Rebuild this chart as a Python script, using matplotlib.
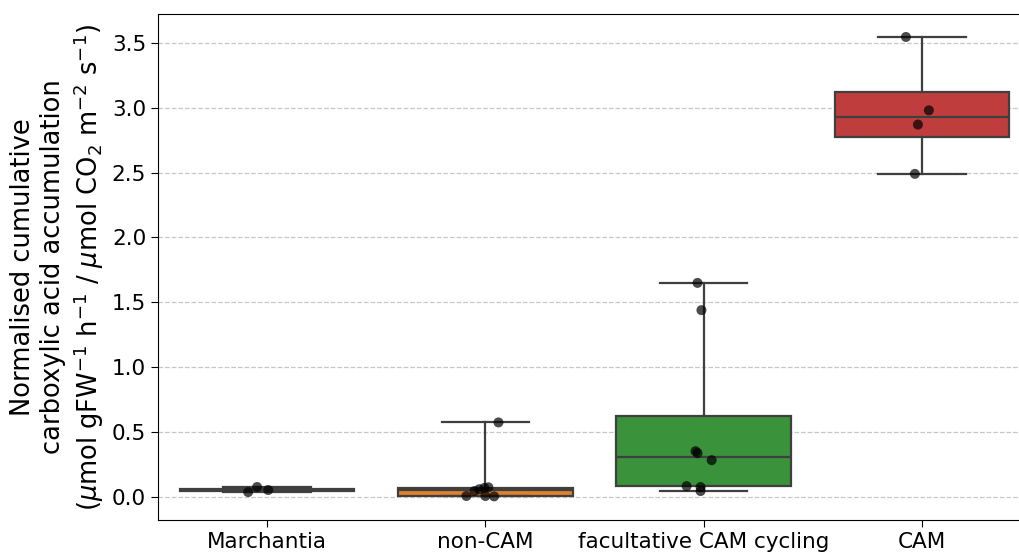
import matplotlib
matplotlib.use("Agg")
import matplotlib.pyplot as plt
import numpy as np

categories = ["Marchantia", "non-CAM", "facultative CAM cycling", "CAM"]
marchantia = [0.038, 0.077, 0.054]
non_cam = [0.575, 0.075, 0.07, 0.06, 0.046, 0.008, 0.008, 0.005]
facultative = [1.65, 1.44, 0.353, 0.338, 0.284, 0.084, 0.077, 0.046]
cam = [3.545, 2.98, 2.87, 2.49]
# horizontal jitter offsets of the strip points
jit_marchantia = [-0.087, -0.046, 0.005]
jit_non_cam = [0.06, 0.014, -0.005, -0.028, -0.05, -0.087, 0.0, 0.04]
jit_facultative = [-0.028, -0.01, -0.037, -0.028, 0.037, -0.078, -0.014, -0.014]
jit_cam = [-0.073, 0.032, -0.018, -0.032]

data = [marchantia, non_cam, facultative, cam]
jitters = [jit_marchantia, jit_non_cam, jit_facultative, jit_cam]
colors = ["#3274a1", "#e1812c", "#3a923a", "#c03d3e"]
line_c = "#3f3f3f"

fig = plt.figure(figsize=(10.19, 5.55), dpi=100)
ax = fig.add_axes([158/1019, 35/555, (1031-158)/1019, (520-14)/555])

pos = np.arange(len(categories))
bp = ax.boxplot(data, positions=pos, widths=0.8, whis=(0, 100), patch_artist=True,
                showfliers=False, capwidths=0.4,
                boxprops=dict(edgecolor=line_c, linewidth=1.6),
                whiskerprops=dict(color=line_c, linewidth=1.6),
                capprops=dict(color=line_c, linewidth=1.6),
                medianprops=dict(color=line_c, linewidth=1.6), zorder=2)
for patch, c in zip(bp["boxes"], colors):
    patch.set_facecolor(c)

for i, (vals, jit) in enumerate(zip(data, jitters)):
    ax.scatter(np.array(jit) + i, vals, s=7.2**2, color="black", alpha=0.7,
               edgecolors="none", zorder=3)

ax.set_xlim(-0.5, 3.5)
ax.set_ylim(-0.177, 3.722)
ax.set_xticks(pos)
ax.set_xticklabels(categories)
ax.tick_params(axis="both", labelsize=15.5, length=5)
ax.yaxis.grid(True, linestyle="--", color="#b0b0b0", alpha=0.7, linewidth=0.9)
ax.set_axisbelow(True)
ax.set_ylabel("Normalised cumulative\ncarboxylic acid accumulation\n"
              r"($\mu$mol gFW$^{-1}$ h$^{-1}$ / $\mu$mol CO$_2$ m$^{-2}$ s$^{-1}$)",
              fontsize=18.5)

fig.savefig("out.png", dpi=100)
